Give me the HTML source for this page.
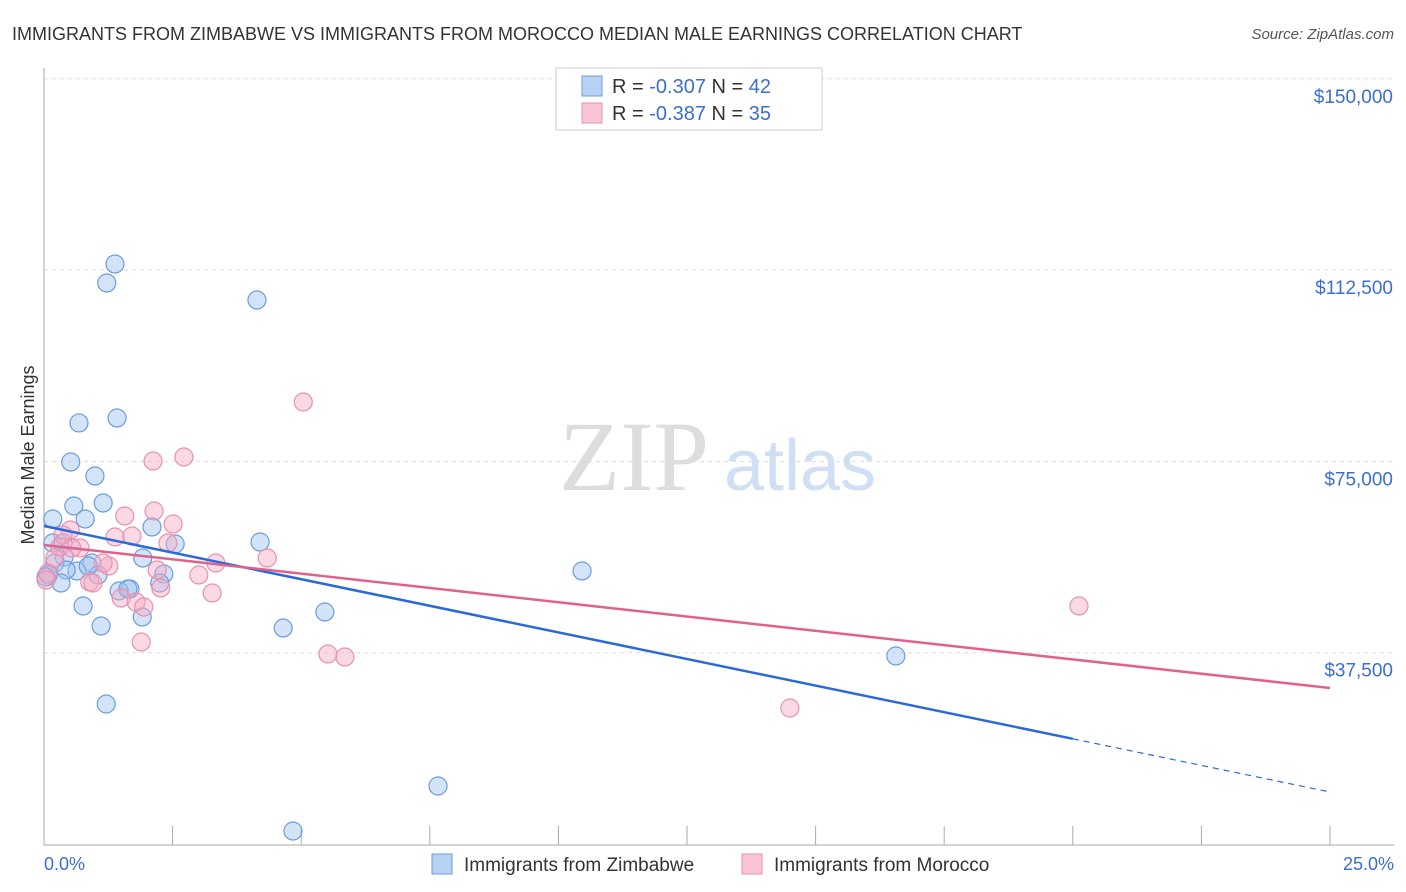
<!DOCTYPE html>
<html><head><meta charset="utf-8"><style>
body{margin:0;background:#fff;font-family:"Liberation Sans",sans-serif}
</style></head><body>
<svg id="c" width="1406" height="892" xmlns="http://www.w3.org/2000/svg" style="display:block">
<text x="12" y="40" font-size="18" fill="#333">IMMIGRANTS FROM ZIMBABWE VS IMMIGRANTS FROM MOROCCO MEDIAN MALE EARNINGS CORRELATION CHART</text>
<text x="1394" y="39" font-size="15" fill="#555" text-anchor="end" font-style="italic">Source: ZipAtlas.com</text>
<text x="34" y="455" font-size="18" fill="#333" text-anchor="middle" transform="rotate(-90 34 455)">Median Male Earnings</text>
<g id="grid"></g>
<g id="yt"></g>
<g id="xt"></g>
<text x="634" y="490" font-size="100" fill="#ddd" font-family="Liberation Serif,serif" text-anchor="middle">ZIP</text>
<text x="800" y="490" font-size="72" fill="#cfe0f5" text-anchor="middle">atlas</text>
<g id="pts"></g>
<g id="tr"></g>
<g>
<rect x="556" y="68" width="266" height="62" fill="#fff" stroke="#ccc"/>
<rect x="582" y="76" width="20" height="20" fill="#b8d2f5" stroke="#6a9be0"/>
<rect x="582" y="103" width="20" height="20" fill="#f9c4d5" stroke="#e890ad"/>
<text x="612" y="93" font-size="20" fill="#333">R = <tspan fill="#3a6fd0">-0.307</tspan>   N = <tspan fill="#3a6fd0">42</tspan></text>
<text x="612" y="120" font-size="20" fill="#333">R = <tspan fill="#3a6fd0">-0.387</tspan>   N = <tspan fill="#3a6fd0">35</tspan></text>
</g>
<g>
<rect x="432" y="854" width="20" height="20" fill="#b8d2f5" stroke="#6a9be0"/>
<text x="464" y="871" font-size="19" fill="#333">Immigrants from Zimbabwe</text>
<rect x="742" y="854" width="20" height="20" fill="#f9c4d5" stroke="#e890ad"/>
<text x="774" y="871" font-size="19" fill="#333">Immigrants from Morocco</text>
</g>
<text x="44" y="870" font-size="18" fill="#3a6fd0">0.0%</text>
<text x="1394" y="870" font-size="18" fill="#3a6fd0" text-anchor="end">25.0%</text>
</svg>
<script>
const yTicks=[37500,75000,112500,150000];
const yTickLabels=["$37,500","$75,000","$112,500","$150,000"];
const zimX=[1.38,1.22,4.14,0.68,1.42,0.52,0.99,0.58,1.15,0.17,0.80,2.10,4.20,2.55,0.17,0.37,0.39,1.92,0.93,0.21,0.64,0.43,1.05,2.33,0.33,1.67,2.25,1.46,0.76,5.46,1.91,1.11,4.65,10.46,16.56,1.21,7.66,4.84,0.08,0.04,0.86,1.63];
const zimY=[113698,109973,106640,82535,83509,74883,72139,66258,66846,63710,63710,62142,59201,58809,59005,59005,56261,56065,55084,55084,53516,53712,52732,52928,51164,49988,51164,49596,46655,45479,44499,42735,42343,53516,36854,27444,11370,2548,52732,52340,54496,49988];
const morX=[5.04,2.72,2.12,2.51,1.57,0.51,0.37,2.14,1.38,1.71,0.31,0.70,0.54,1.26,1.15,3.34,4.34,2.20,3.01,0.08,0.89,0.95,2.27,3.27,1.50,1.79,1.94,1.89,5.52,5.85,20.12,14.50,0.21,0.04,2.41];
const morY=[86645,75864,75080,62730,64298,61553,60573,65278,60181,60377,58221,58025,58025,54496,55084,55084,56065,53712,52732,53124,51360,51164,50184,49204,48224,47439,46459,39598,37246,36658,46655,26660,56065,51752,59005];
const zimTrend=[62336,10193];
const morTrend=[58612,30580];
const xs=p=>44+p/25*1286, ys=v=>844-v/37500*191.3;
const NS="http://www.w3.org/2000/svg";
function mk(t,a,parent){const e=document.createElementNS(NS,t);for(const k in a)e.setAttribute(k,a[k]);document.getElementById(parent).appendChild(e);return e;}
yTicks.forEach((v,i)=>{
 const l=mk('line',{x1:44,x2:1394,y1:ys(v),y2:ys(v),stroke:'#ddd','stroke-dasharray':'4,4'},'grid');
 
 
 const t=mk('text',{x:1393,y:ys(v)+24,'font-size':19,fill:'#3a6fd0','text-anchor':'end'},'yt');
 t.textContent=yTickLabels[i];
 
 
});
mk('line',{x1:44,x2:44,y1:68,y2:845,stroke:'#aaa'},'xt');
mk('line',{x1:44,x2:1394,y1:845,y2:845,stroke:'#aaa'},'xt');
for(let i=1;i<=10;i++){const t=mk('line',{x1:xs(i*2.5),x2:xs(i*2.5),y1:826,y2:845,stroke:'#aaa'},'xt');
 
 }
function pts(X,Y,f,s,name){X.forEach((x,i)=>{const c=mk('circle',{cx:xs(x),cy:ys(Y[i]),r:9,fill:f,stroke:s,'stroke-width':1.2},'pts');
 
 });}
pts(zimX,zimY,'rgba(160,195,240,0.45)','#6a9be0','zimbabwe-point');
pts(morX,morY,'rgba(245,170,195,0.45)','#e890ad','morocco-point');
function lineAt(tr,p){return tr[0]+(tr[1]-tr[0])*p/25;}
const b1=mk('line',{x1:xs(0),y1:ys(zimTrend[0]),x2:xs(20),y2:ys(lineAt(zimTrend,20)),stroke:'#2a6ad8','stroke-width':2.5},'tr');


const b2=mk('line',{x1:xs(20),y1:ys(lineAt(zimTrend,20)),x2:xs(25),y2:ys(zimTrend[1]),stroke:'#2a6ad8','stroke-width':1.2,'stroke-dasharray':'6,5'},'tr');


const p1=mk('line',{x1:xs(0),y1:ys(morTrend[0]),x2:xs(25),y2:ys(morTrend[1]),stroke:'#e0608e','stroke-width':2.5},'tr');


</script>
</body></html>
